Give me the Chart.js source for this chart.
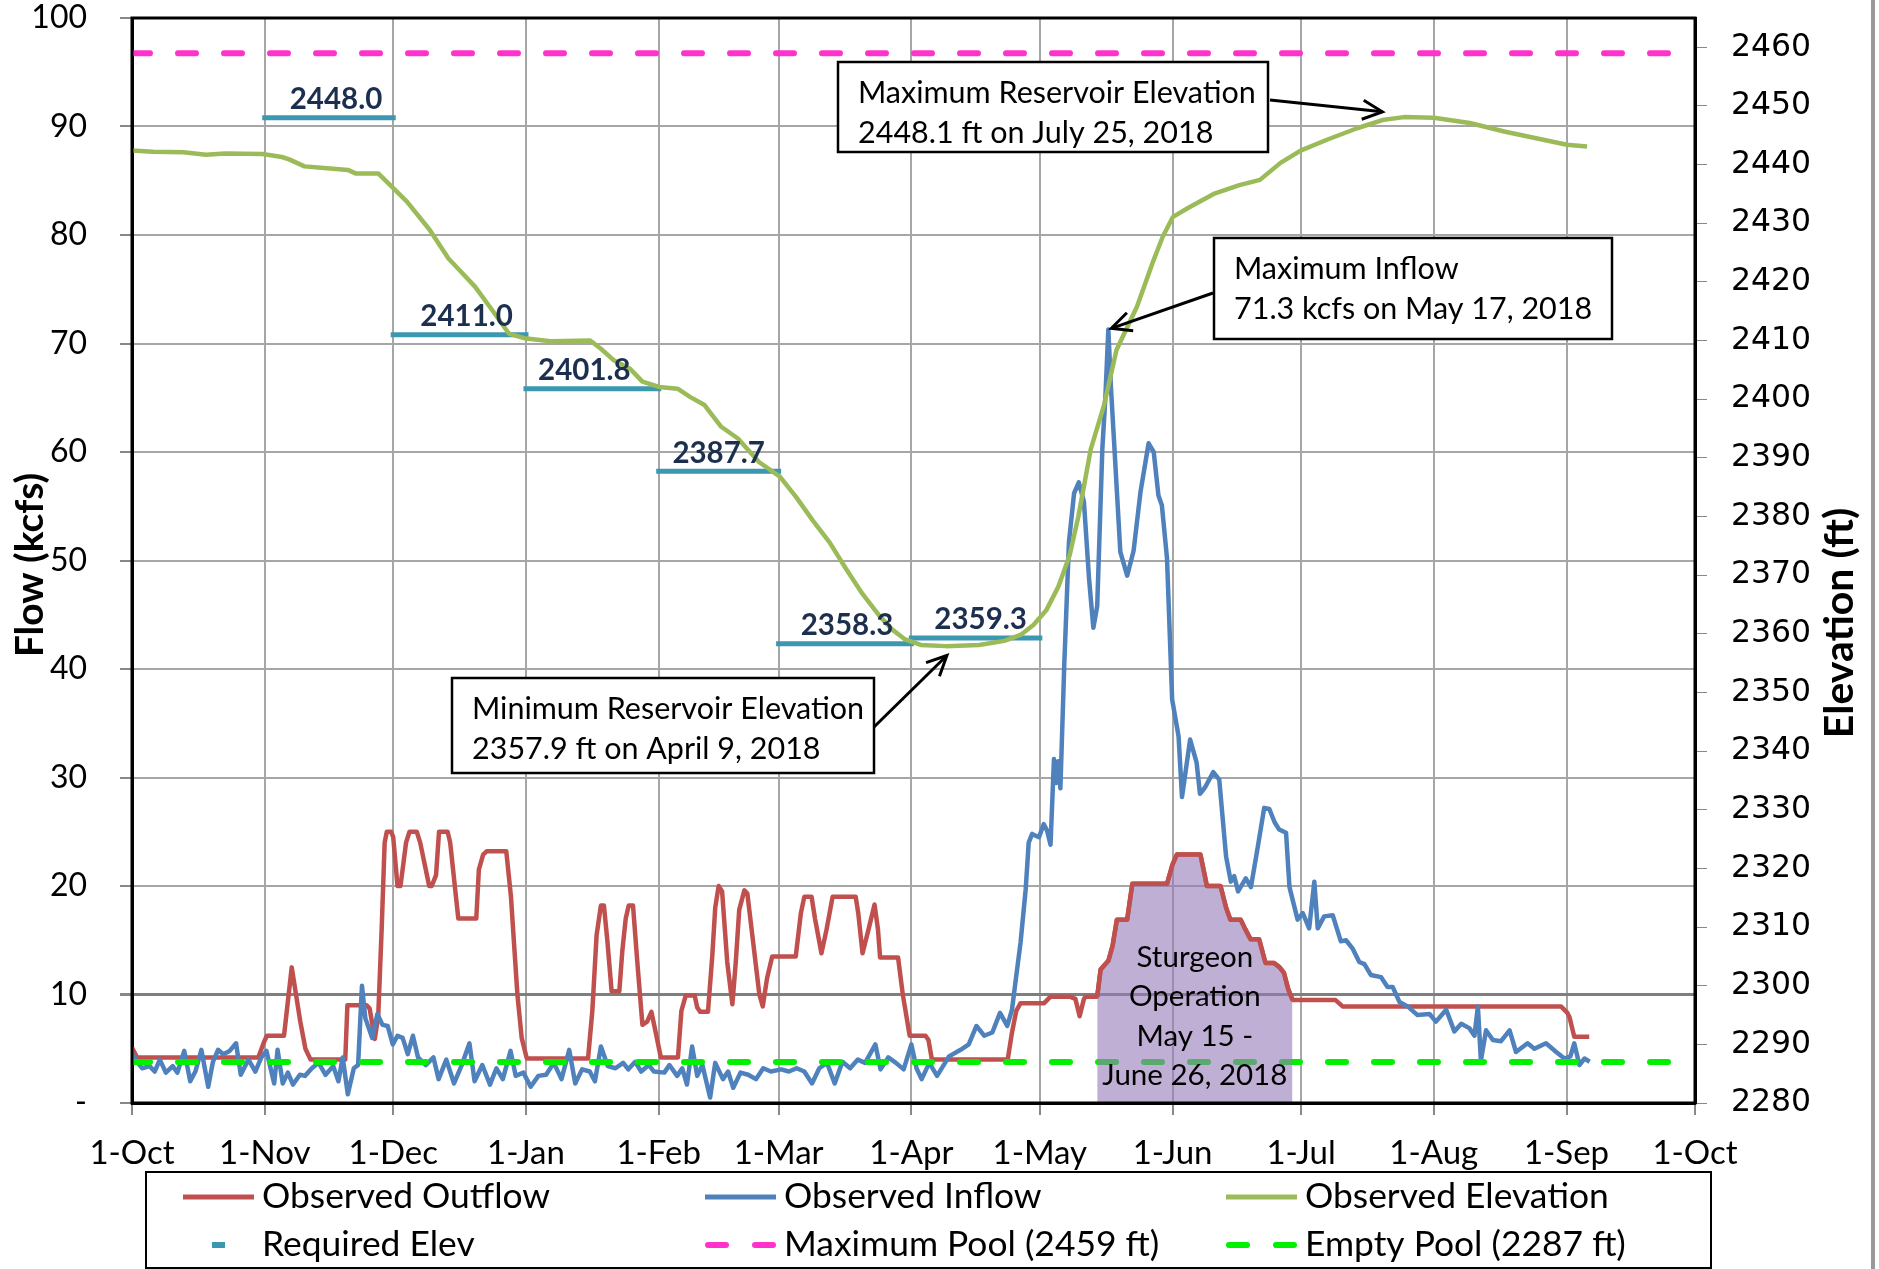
<!DOCTYPE html>
<html>
<head>
<meta charset="utf-8">
<script src="https://cdn.jsdelivr.net/npm/chart.js@4.4.1/dist/chart.umd.min.js"></script>
<style>
  html, body { margin: 0; padding: 0; background: #fff; }
</style>
</head>
<body>
<canvas id="myChart" width="1879" height="1269"></canvas>
<script>
// x values are days counted from 1-Oct-2017
const monthDays = [0, 31, 61, 92, 123, 151, 182, 212, 243, 273, 304, 335, 365];
const monthLabels = ['1-Oct', '1-Nov', '1-Dec', '1-Jan', '1-Feb', '1-Mar', '1-Apr',
  '1-May', '1-Jun', '1-Jul', '1-Aug', '1-Sep', '1-Oct'];
const flowTicks = [0, 10, 20, 30, 40, 50, 60, 70, 80, 90, 100];
const elevTicks = [2280, 2290, 2300, 2310, 2320, 2330, 2340, 2350, 2360, 2370,
  2380, 2390, 2400, 2410, 2420, 2430, 2440, 2450, 2460];

// Observed Outflow (kcfs)
const outflowDays = [0, 1.2, 29.5, 30.8, 31.5, 35.5, 37.3, 39.3, 40.5, 41.7, 49.8, 50.3, 54.8, 55.5, 56.7, 57.5, 58.3, 59,
  59.5, 60.5, 61, 62, 62.7, 64, 64.8, 66.5, 67.3, 69.4, 70, 71, 71.7, 73.7, 74.3, 76.2, 80.4, 81, 82, 82.8, 87.4,
  88.5, 90, 91, 92.2, 106.5, 107.5, 108.5, 109.5, 110.2, 111, 112, 113.8, 114.5, 115.3, 116, 117, 118, 119.2,
  120.3, 121.3, 122.3, 123.5, 127.5, 128.3, 129.3, 131.4, 132, 132.7, 134.5, 135.5, 136.2, 137, 137.8, 139,
  140.2, 141, 141.8, 143, 143.7, 145, 146.5, 147.3, 148.3, 149.5, 155, 156.2, 157, 158.7, 159.5, 161, 162.2,
  163.6, 169, 169.6, 170.6, 172, 173.4, 174.2, 174.7, 178.9, 180, 181.6, 185.3, 186, 186.8, 204.5, 205.5,
  206.5, 207.5, 213, 214.5, 219, 220.3, 221.3, 222.3, 222.7, 225.4, 226.2, 228, 229, 230, 232.4, 233.6,
  241.7, 243, 244, 249.5, 250.5, 251, 254.2, 255.5, 256.5, 258.9, 260, 261.2, 263.2, 264.7, 266.7, 268,
  269, 270, 271, 281, 282.7, 333.7, 335.2, 335.7, 336.8, 340.3];
const outflowKcfs = [5.1, 4.2, 4.2, 5.6, 6.2, 6.2, 12.5, 7.5, 5, 4.0, 4.0, 9.0, 9.0, 8.7, 5.9, 8, 16, 24,
  25, 25, 24.5, 20, 20, 24, 25, 25, 24, 20, 20, 21, 25, 25, 24, 17, 17, 21.5, 22.9, 23.2, 23.2,
  19, 10, 6, 4.1, 4.1, 8.5, 15.5, 18.2, 18.2, 15, 10.3, 10.3, 14, 17, 18.2, 18.2, 13, 7.2,
  7.5, 8.4, 6.5, 4.2, 4.2, 8.5, 9.9, 9.9, 8.8, 8.4, 8.4, 13.5, 18, 20, 19.5, 13,
  9.1, 13, 17.8, 19.6, 19.3, 15, 10, 8.9, 11.5, 13.5, 13.5, 17.5, 19, 19, 17, 13.8, 16,
  19, 19, 17.5, 13.8, 16, 18.3, 16, 13.4, 13.4, 10, 6.2, 6.2, 5.8, 4.0, 4.0, 6.5,
  8.5, 9.2, 9.2, 9.8, 9.8, 9.6, 8.0, 9.6, 9.8, 9.8, 12.3, 13.1, 14.5, 16.9, 16.9, 20.2,
  20.2, 22, 22.9, 22.9, 21, 20, 20, 18, 16.9, 16.9, 16, 15.1, 15.1, 12.9, 12.9, 12.5,
  12, 10.5, 9.5, 9.5, 8.9, 8.9, 8.3, 7.9, 6.1, 6.1];

// Observed Inflow (kcfs)
const inflowDays = [0, 1.2, 2.4, 4.1, 5.3, 6.5, 7.9, 9.5, 10.6, 12.2, 13.6, 14.8, 16.2, 17.8, 18.9, 20.1, 21.3,
  22.8, 24.3, 25.4, 27.2, 28.8, 30.2, 31.4, 33.2, 34, 35.2, 36.4, 37.6, 39.2, 40.4, 42, 43.6, 45.2, 47,
  48.2, 49.2, 50.4, 51.8, 52.8, 53.7, 54.5, 56.1, 57.3, 58.5, 59.7, 60.9, 62, 63.2, 64.4, 65.6, 66.8,
  68.6, 70.4, 71.6, 73.4, 75.2, 77, 78.8, 80, 81.8, 83.6, 85.1, 86.6, 88.4, 89.6, 91.4, 93.1, 94.9,
  96.7, 98.5, 100.3, 102.1, 103.5, 105.1, 106.9, 108.1, 109.5, 111.1, 112.9, 114.7, 115.9, 117.5,
  118.9, 120.7, 121.9, 124.3, 125.5, 127.3, 128.5, 129.6, 130.8, 132, 133.2, 135, 136.2, 138, 139.2,
  140.4, 142.1, 143.9, 145.7, 147.4, 149.2, 151.6, 153.4, 155.2, 157, 158.8, 160.5, 162.3, 164.1,
  165.9, 167.7, 169.5, 171.2, 173.6, 174.8, 176.6, 178.4, 180.2, 182, 183.2, 184.4, 186.2, 188,
  190.8, 193.5, 195.4, 197.2, 199, 200.9, 202.7, 204.4, 205.5, 206.3, 207.5, 208.7, 209.4, 210.2,
  211.8, 212.9, 213.7, 214.5, 215.3, 215.8, 216.3, 216.8, 217.7, 218.8, 220, 221.1, 222.3, 223.5,
  224.5, 225.4, 226.6, 227.3, 228, 228.6, 229.3, 230.8, 232.4, 233.9, 235.5, 237.4, 238.6, 239.7,
  240.5, 241.7, 242.9, 244.4, 245.2, 247.1, 248.6, 249.4, 250.6, 252.5, 253.9, 255.5, 256.6, 257.4,
  258.3, 260.1, 261.3, 262.9, 264.4, 265.6, 266.8, 267.9, 269.5, 270.3, 272.2, 273.4, 274.9, 276.1,
  276.9, 278.4, 280.4, 282.3, 283.5, 285.1, 286.6, 287.8, 289.3, 291.7, 293.2, 294.4, 296, 297.9,
  300.2, 303, 304.5, 306.9, 308.8, 310.4, 312.3, 313.5, 314.3, 315, 316.2, 317.8, 319.7, 321.7,
  323.2, 325.9, 327.5, 330.2, 332.6, 334.5, 335.9, 336.8, 338, 339.2, 340.4];
const inflowKcfs = [4.6, 3.8, 3.2, 3.4, 2.9, 4.0, 2.8, 3.4, 2.8, 4.8, 2.0, 2.9, 4.9, 1.5, 3.8, 4.9, 4.5,
  4.8, 5.5, 2.6, 4.0, 2.9, 4.2, 4.8, 1.8, 4.9, 1.8, 2.8, 1.7, 2.6, 2.5, 3.2, 3.7, 2.6, 3.4,
  2.0, 4.2, 0.8, 3.2, 3.5, 10.8, 7.8, 6.0, 8.2, 7.2, 7.1, 5.4, 6.2, 6.0, 4.5, 6.2, 4.2,
  3.5, 4.2, 2.2, 4.0, 1.8, 3.5, 5.5, 2.0, 3.5, 1.7, 3.2, 2.2, 4.8, 2.5, 2.8, 1.5, 2.5,
  2.6, 3.7, 2.2, 4.9, 1.8, 3.1, 2.9, 2.0, 5.2, 3.4, 3.2, 3.7, 3.1, 3.8,
  2.9, 3.5, 2.9, 2.8, 3.5, 2.5, 3.2, 1.7, 5.2, 2.5, 3.5, 0.5, 3.7, 2.2, 2.9,
  1.4, 2.8, 2.6, 2.2, 3.2, 2.9, 3.1, 2.9, 3.2, 2.9, 1.8, 3.2, 3.7, 1.8,
  3.8, 3.2, 4.0, 3.7, 5.4, 3.1, 4.2, 3.7, 3.1, 5.4, 3.2, 2.2, 3.7, 2.5,
  4.3, 4.9, 5.4, 7.1, 6.2, 6.5, 8.3, 7.1, 8.6, 11.1, 14.8, 19.7, 24.0, 24.8,
  24.5, 25.7, 25.1, 23.8, 31.7, 29.5, 31.5, 29.0, 40.3, 51.7, 56.2, 57.2, 55.4, 48.3,
  43.8, 45.8, 60.3, 65.0, 71.3, 66.0, 61.2, 50.8, 48.6, 50.9, 56.3, 60.8, 60.0, 56.0,
  55.1, 50.2, 37.2, 33.8, 28.2, 33.5, 31.4, 28.5, 29.1, 30.5, 29.8, 22.7, 20.4, 20.9,
  19.5, 20.7, 19.9, 23.6, 27.2, 27.1, 25.9, 25.2, 24.9, 19.9, 16.9, 17.5, 16.1, 20.4,
  16.1, 17.2, 17.3, 14.9, 15.0, 14.2, 13.0, 12.8, 11.8, 11.6, 10.7, 10.7, 9.3, 8.9,
  8.1, 8.2, 7.5, 8.6, 6.6, 7.3, 6.9, 6.2, 8.9, 3.9, 6.7, 5.8, 5.7, 6.7,
  4.7, 5.5, 5.0, 5.5, 4.7, 4.1, 4.3, 5.5, 3.5, 4.1, 3.8];

// Observed Elevation (ft)
const elevDays = [0, 4.9, 12, 17.3, 21.7, 30.5, 35, 36.7, 40.3, 45.6, 50.4, 52.2, 57.5, 60.6, 64.2, 69.5,
  73.9, 76.5, 80.1, 84.3, 88, 91.6, 97.8, 107, 109.5, 112.4, 116.3, 119.2, 123.1, 127.4, 130.3, 133.7,
  137.6, 141.5, 146.4, 151.3, 155.1, 159, 162.9, 166.8, 170.6, 174.5, 177.4, 180.4, 184.2, 190, 197.8,
  203.7, 207.5, 210.5, 213.5, 216.3, 219, 221, 223.9, 227, 229.9, 234.7, 238.3, 240.7, 243.1, 246.6,
  252.6, 258.6, 263.4, 268.2, 272.9, 278.9, 286.1, 292, 297, 304, 312.4, 320.7, 327.9, 335.1, 339.8];
const elevFt = [2442.4, 2442.2, 2442.1, 2441.7, 2441.9, 2441.8, 2441.3, 2440.9, 2439.7, 2439.4, 2439.1,
  2438.5, 2438.5, 2436.3, 2433.7, 2428.9, 2424.0, 2422.0, 2419.2, 2415.0, 2411.2, 2410.4, 2409.9,
  2410.0, 2408.6, 2406.7, 2405.2, 2403.0, 2402.1, 2401.8, 2400.4, 2399.0, 2395.3, 2393.3, 2389.3,
  2386.8, 2383.3, 2379.3, 2375.6, 2371.0, 2366.8, 2363.1, 2360.8, 2359.1, 2358.1, 2357.9, 2358.1,
  2358.8, 2359.8, 2361.5, 2364.0, 2368.0, 2373.5, 2380.0, 2391.5, 2399.0, 2408.4, 2415.8, 2423.2,
  2427.7, 2431.1, 2432.6, 2435.0, 2436.5, 2437.4, 2440.3, 2442.4, 2444.2, 2446.2, 2447.6, 2448.1,
  2448.0, 2447.1, 2445.6, 2444.5, 2443.4, 2443.1];

// Required Elev segments (ft)
const reqStart = [31, 61, 92, 123, 151, 182];
const reqEnd = [61, 92, 123, 151, 182, 212];
const reqElev = [2448.0, 2411.0, 2401.8, 2387.7, 2358.3, 2359.3];

const maxPool = 2459;
const emptyPool = 2287;
const sturgeonStart = 225.4;
const sturgeonEnd = 271;

const pts = (xs, ys) => xs.map((x, i) => ({ x: x, y: ys[i] }));

const outflowData = pts(outflowDays, outflowKcfs);
const sturgeonData = outflowData.filter(p => p.x >= sturgeonStart && p.x <= sturgeonEnd);
const reqData = [];
reqElev.forEach((v, i) => {
  reqData.push({ x: reqStart[i], y: v }, { x: reqEnd[i], y: v }, { x: reqEnd[i], y: null });
});

const RED = '#C0504D', BLUE = '#4F81BD', GREEN = '#9BBB59', TEAL = '#3C97B0',
  PINK = '#FF33CC', LIME = '#00F000';

Chart.defaults.font.family = 'Lato';
Chart.defaults.color = '#000';

const legendItems = [
  { label: 'Observed Outflow', kind: 'line', color: RED, x: 183, y: 1197 },
  { label: 'Observed Inflow', kind: 'line', color: BLUE, x: 705, y: 1197 },
  { label: 'Observed Elevation', kind: 'line', color: GREEN, x: 1226, y: 1197 },
  { label: 'Required Elev', kind: 'mark', color: TEAL, x: 183, y: 1245 },
  { label: 'Maximum Pool (2459 ft)', kind: 'dash', color: PINK, x: 705, y: 1245 },
  { label: 'Empty Pool (2287 ft)', kind: 'dash', color: LIME, x: 1226, y: 1245 },
];

// label nudges for the required elevation values, in px
const reqLabelShift = [7, 7, -8, 0, 2, 5];

const notes = [
  { lines: ['Maximum Reservoir Elevation', '2448.1 ft on July 25, 2018'],
    box: [838, 62, 430, 90], from: [1270, 100], tip: [292, 2449], axis: 'y2' },
  { lines: ['Maximum Inflow', '71.3 kcfs on May 17, 2018'],
    box: [1214, 238, 398, 101], from: [1213, 293], tip: [228.7, 71.4], axis: 'y' },
  { lines: ['Minimum Reservoir Elevation', '2357.9 ft on April 9, 2018'],
    box: [452, 678, 422, 95], from: [874, 727], tip: [190.3, 2356.3], axis: 'y2' },
];

function arrow(ctx, x1, y1, x2, y2) {
  const a = Math.atan2(y2 - y1, x2 - x1);
  ctx.beginPath();
  ctx.moveTo(x1, y1);
  ctx.lineTo(x2, y2);
  ctx.stroke();
  ctx.beginPath();
  ctx.moveTo(x2 - 22 * Math.cos(a - 0.45), y2 - 22 * Math.sin(a - 0.45));
  ctx.lineTo(x2, y2);
  ctx.lineTo(x2 - 22 * Math.cos(a + 0.45), y2 - 22 * Math.sin(a + 0.45));
  ctx.stroke();
}

// no extra room for the end labels, the plot area is fixed by hand
function noPad(s) {
  s.paddingTop = 0;
  s.paddingBottom = 0;
  s.paddingLeft = 0;
  s.paddingRight = 0;
}

const extras = {
  id: 'extras',
  afterDraw(chart) {
    const { ctx, chartArea: a, scales } = chart;
    ctx.save();

    // plot frame
    ctx.strokeStyle = '#000';
    ctx.lineWidth = 3;
    ctx.strokeRect(a.left, a.top, a.right - a.left, a.bottom - a.top);

    // required elevation labels
    ctx.font = 'bold 29.5px Lato';
    ctx.fillStyle = '#1c2f4f';
    ctx.textAlign = 'center';
    ctx.textBaseline = 'middle';
    reqElev.forEach((v, i) => {
      const x = (scales.x.getPixelForValue(reqStart[i]) + scales.x.getPixelForValue(reqEnd[i])) / 2;
      ctx.fillText(v.toFixed(1), x + reqLabelShift[i], scales.y2.getPixelForValue(v) - 18);
    });

    // sturgeon text
    ctx.font = '29.5px Lato';
    ctx.fillStyle = '#000';
    const sx = (scales.x.getPixelForValue(sturgeonStart) + scales.x.getPixelForValue(sturgeonEnd)) / 2;
    ['Sturgeon', 'Operation', 'May 15 -', 'June 26, 2018'].forEach((t, i) => {
      ctx.fillText(t, sx, 957 + i * 39.5);
    });

    // callout boxes
    ctx.textAlign = 'left';
    ctx.font = '30.5px Lato';
    notes.forEach(n => {
      const [bx, by, bw, bh] = n.box;
      ctx.fillStyle = '#fff';
      ctx.fillRect(bx, by, bw, bh);
      ctx.strokeStyle = '#000';
      ctx.lineWidth = 2.5;
      ctx.strokeRect(bx, by, bw, bh);
      ctx.fillStyle = '#000';
      ctx.fillText(n.lines[0], bx + 20, by + 31);
      ctx.fillText(n.lines[1], bx + 20, by + 71);
      ctx.lineWidth = 3;
      arrow(ctx, n.from[0], n.from[1],
        scales.x.getPixelForValue(n.tip[0]), scales[n.axis].getPixelForValue(n.tip[1]));
    });

    // axis titles
    ctx.textAlign = 'center';
    ctx.fillStyle = '#000';
    ctx.font = 'bold 39px Lato';
    ctx.save();
    ctx.translate(30, 565);
    ctx.rotate(-Math.PI / 2);
    ctx.fillText('Flow (kcfs)', 0, 0);
    ctx.restore();
    ctx.font = 'bold 41px Lato';
    ctx.save();
    ctx.translate(1840, 623);
    ctx.rotate(-Math.PI / 2);
    ctx.fillText('Elevation (ft)', 0, 0);
    ctx.restore();

    // legend
    ctx.strokeStyle = '#000';
    ctx.lineWidth = 2;
    ctx.strokeRect(146, 1172, 1565, 96);
    ctx.font = '35.4px Lato';
    ctx.textAlign = 'left';
    legendItems.forEach(it => {
      ctx.strokeStyle = it.color;
      ctx.fillStyle = it.color;
      if (it.kind === 'line') {
        ctx.lineWidth = 5;
        ctx.lineCap = 'butt';
        ctx.beginPath();
        ctx.moveTo(it.x, it.y);
        ctx.lineTo(it.x + 71, it.y);
        ctx.stroke();
      } else if (it.kind === 'dash') {
        ctx.lineWidth = 6;
        ctx.lineCap = 'round';
        ctx.beginPath();
        ctx.moveTo(it.x + 3, it.y);
        ctx.lineTo(it.x + 21, it.y);
        ctx.moveTo(it.x + 50, it.y);
        ctx.lineTo(it.x + 68, it.y);
        ctx.stroke();
      } else {
        ctx.fillRect(it.x + 29, it.y - 3, 13, 6);
      }
      ctx.fillStyle = '#000';
      ctx.fillText(it.label, it.x + 79, it.y);
    });

    // outer frame edge at right
    ctx.strokeStyle = '#999';
    ctx.lineWidth = 4;
    ctx.beginPath();
    ctx.moveTo(1873, 0);
    ctx.lineTo(1873, 1269);
    ctx.stroke();

    ctx.restore();
  }
};

const config = {
  type: 'line',
  data: {
    datasets: [
      {
        label: 'Sturgeon Operation', data: sturgeonData, yAxisID: 'y', order: 0,
        borderColor: RED, borderWidth: 4.5, fill: 'origin',
        backgroundColor: 'rgba(150, 122, 185, 0.6)'
      },
      {
        label: 'Maximum Pool (2459 ft)', data: [{ x: 0, y: maxPool }, { x: 365, y: maxPool }],
        yAxisID: 'y2', order: 1, borderColor: PINK, borderWidth: 6,
        borderDash: [18, 28], borderCapStyle: 'round'
      },
      {
        label: 'Empty Pool (2287 ft)', data: [{ x: 0, y: emptyPool }, { x: 365, y: emptyPool }],
        yAxisID: 'y2', order: 2, borderColor: LIME, borderWidth: 6,
        borderDash: [18, 28], borderCapStyle: 'round'
      },
      {
        label: 'Observed Elevation', data: pts(elevDays, elevFt), yAxisID: 'y2', order: 3,
        borderColor: GREEN, borderWidth: 4.5
      },
      {
        label: 'Required Elev', data: reqData, yAxisID: 'y2', order: 4,
        borderColor: TEAL, borderWidth: 5, spanGaps: false, borderCapStyle: 'square'
      },
      {
        label: 'Observed Inflow', data: pts(inflowDays, inflowKcfs), yAxisID: 'y', order: 5,
        borderColor: BLUE, borderWidth: 4.5
      },
      {
        label: 'Observed Outflow', data: outflowData, yAxisID: 'y', order: 6,
        borderColor: RED, borderWidth: 4.5
      }
    ]
  },
  options: {
    responsive: false,
    animation: false,
    devicePixelRatio: 1,
    layout: { padding: { top: 18, left: 0, right: 0, bottom: 0 } },
    elements: {
      point: { radius: 0 },
      line: { tension: 0, fill: false, borderJoinStyle: 'round' }
    },
    plugins: { legend: { display: false }, tooltip: { enabled: false } },
    scales: {
      x: {
        type: 'linear', min: 0, max: 365,
        afterBuildTicks: s => { s.ticks = monthDays.map(v => ({ value: v })); },
        afterFit: s => { noPad(s); s.height = 166; },
        ticks: {
          autoSkip: false, maxRotation: 0, padding: 19, font: { size: 33 },
          callback: v => monthLabels[monthDays.indexOf(v)]
        },
        grid: { color: '#a6a6a6', lineWidth: 2, tickLength: 12, tickColor: '#888' },
        border: { color: '#000', width: 3 }
      },
      y: {
        position: 'left', min: 0, max: 100,
        afterBuildTicks: s => { s.ticks = flowTicks.map(v => ({ value: v })); },
        afterFit: s => { noPad(s); s.width = 132; },
        ticks: { padding: 33, font: { size: 32 }, callback: v => (v === 0 ? '-' : String(v)) },
        grid: {
          color: c => (c.tick && c.tick.value === 10 ? '#7f7f7f' : '#a6a6a6'),
          lineWidth: c => (c.tick && c.tick.value === 10 ? 3 : 2),
          tickLength: 12, tickColor: '#888'
        },
        border: { color: '#000', width: 3 }
      },
      y2: {
        position: 'right', min: 2280, max: 2465,
        afterBuildTicks: s => { s.ticks = elevTicks.map(v => ({ value: v })); },
        afterFit: s => { noPad(s); s.width = 184; },
        ticks: { padding: 24, font: { family: 'DejaVu Sans', size: 31.5 }, callback: v => String(v) },
        grid: { drawOnChartArea: false, tickLength: 12, tickColor: '#888' },
        border: { color: '#000', width: 3 }
      }
    }
  },
  plugins: [extras]
};

const myChart = new Chart(document.getElementById('myChart'), config);
</script>
</body>
</html>
